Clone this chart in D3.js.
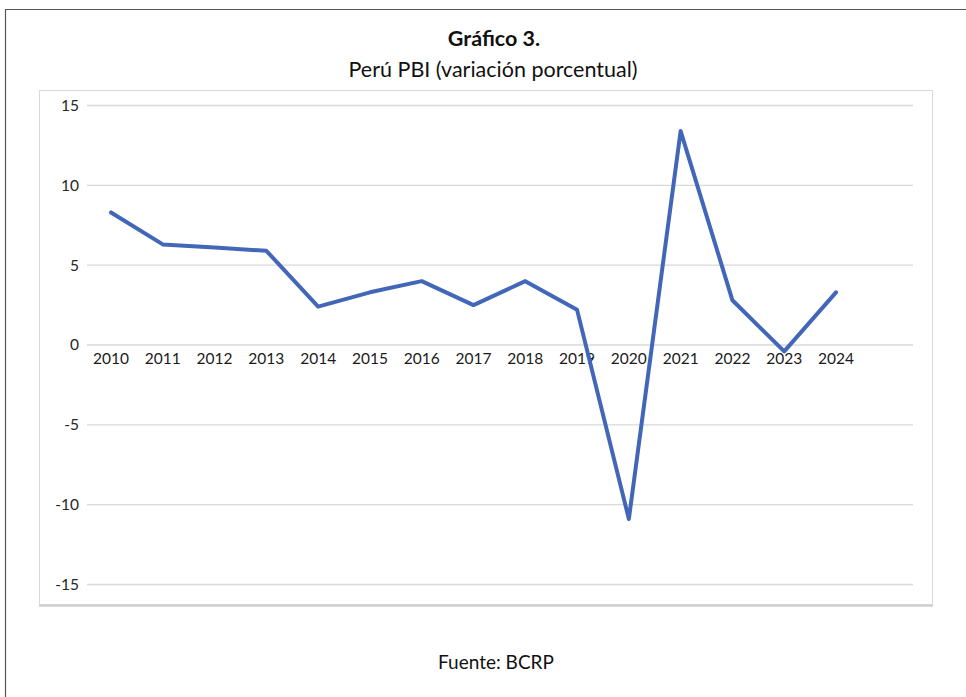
<!DOCTYPE html>
<html><head><meta charset="utf-8">
<script src="https://cdn.jsdelivr.net/npm/d3@7"></script>
<style>body{margin:0;background:#fff}svg{display:block}</style>
</head><body>
<svg id="c" width="966" height="697"></svg>
<script>
const years = ["2010","2011","2012","2013","2014","2015","2016","2017","2018","2019","2020","2021","2022","2023","2024"];
const pbi = [8.3, 6.3, 6.1, 5.9, 2.4, 3.3, 4.0, 2.5, 4.0, 2.2, -10.9, 13.4, 2.8, -0.4, 3.3];
const yTicks = [15, 10, 5, 0, -5, -10, -15];
const title = "Gráfico 3.";
const subtitle = "Perú PBI (variación porcentual)";
const source = "Fuente: BCRP";

const svg = d3.select("#c");
const font = "Lato, 'Open Sans', sans-serif";

// outer frame
svg.append("path").attr("d","M5.5,700 V9.5 H970").attr("fill","none").attr("stroke","#555").attr("stroke-width",1.2);

svg.append("text").attr("x",494).attr("y",46).attr("text-anchor","middle")
  .attr("font-family",font).attr("font-weight","bold").attr("font-size",21.5).attr("fill","#111").text(title);
svg.append("text").attr("x",493).attr("y",77).attr("text-anchor","middle")
  .attr("font-family",font).attr("font-size",21.5).attr("fill","#111").text(subtitle);

// inner chart frame
svg.append("rect").attr("x",39.5).attr("y",90.5).attr("width",893).attr("height",514)
  .attr("fill","#fff").attr("stroke","#d9d9d9").attr("stroke-width",1);
svg.append("line").attr("x1",39).attr("x2",933).attr("y1",605.5).attr("y2",605.5).attr("stroke","#d0d0d0").attr("stroke-width",2.5);

const y = d3.scaleLinear().domain([-15,15]).range([584.5,105.5]);
const x = d3.scalePoint().domain(years).range([111,836]);

// gridlines
svg.append("g").selectAll("line").data(yTicks).join("line")
  .attr("x1",87).attr("x2",913).attr("y1",d=>y(d)).attr("y2",d=>y(d))
  .attr("stroke","#d9d9d9").attr("stroke-width",1.3);

// y labels
svg.append("g").selectAll("text").data(yTicks).join("text")
  .attr("x",79).attr("y",d=>y(d)).attr("dy","0.35em").attr("text-anchor","end")
  .attr("font-family",font).attr("font-size",15.5).attr("fill","#262626").text(d=>d);

// x labels
svg.append("g").selectAll("text").data(years).join("text")
  .attr("x",d=>x(d)).attr("y",y(0)+19).attr("text-anchor","middle")
  .attr("font-family",font).attr("font-size",15.5).attr("fill","#1a1a1a").text(d=>d);

// line
const line = d3.line().x((d,i)=>x(years[i])).y(d=>y(d));
svg.append("path").datum(pbi).attr("d",line).attr("fill","none")
  .attr("stroke","#4267b8").attr("stroke-width",4).attr("stroke-linejoin","round").attr("stroke-linecap","round");

svg.append("text").attr("x",496).attr("y",669).attr("text-anchor","middle")
  .attr("font-family",font).attr("font-size",19).attr("fill","#111").text(source);
</script>
</body></html>
